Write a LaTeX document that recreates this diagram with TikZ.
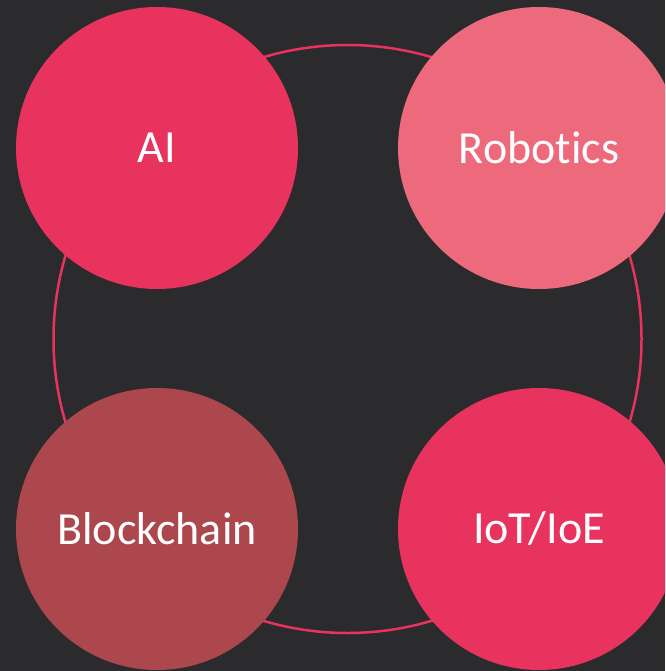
\documentclass[tikz,border=0pt]{standalone}
\usepackage{fontspec}
\setmainfont[Ligatures={NoCommon}]{Carlito}
\definecolor{bgdark}{HTML}{2B2B2D}
\definecolor{ringred}{HTML}{E8335E}
\definecolor{aired}{HTML}{E8335E}
\definecolor{robopink}{HTML}{EC6A7B}
\definecolor{blockred}{HTML}{AD474E}
\definecolor{iotred}{HTML}{E8335E}
\tikzset{
  topic/.style={circle, minimum size=282pt, inner sep=0pt, text=white, font=\fontsize{46}{52}\selectfont},
  ring/.style={draw=ringred, line width=2.5pt}
}
\begin{document}
\begin{tikzpicture}[x=1pt,y=-1pt]
\useasboundingbox (0,0) rectangle (665,671);
\clip (0,0) rectangle (665,671);
\fill[bgdark] (0,0) rectangle (665,671);
\node[circle, ring, minimum size=588pt, inner sep=0pt] (outer) at (347.5,339) {};
\node[topic, fill=aired] (ai) at (157,148) {AI};
\node[topic, fill=robopink] (rob) at (539,148) {Robotics};
\node[topic, fill=blockred] (block) at (157,529) {Blockchain};
\node[topic, fill=iotred] (iot) at (539,529) {IoT/IoE};
\end{tikzpicture}
\end{document}
